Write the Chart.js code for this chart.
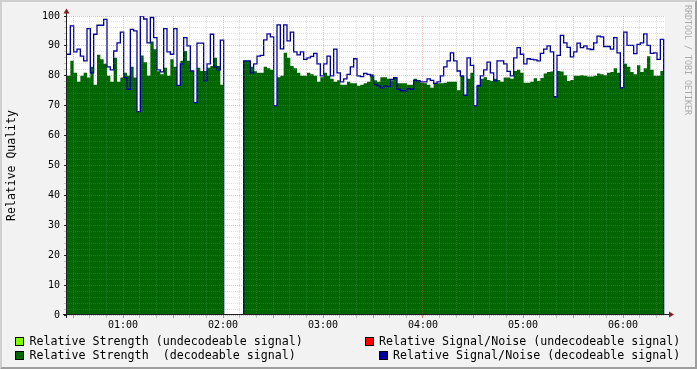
<!DOCTYPE html>
<html>
<head>
<meta charset="utf-8">
<script src="https://cdn.jsdelivr.net/npm/chart.js@4.4.1/dist/chart.umd.min.js"></script>
<style>
html,body{margin:0;padding:0;background:#F2F2F2;}
#wrap{position:relative;width:697px;height:369px;overflow:hidden;}
#wrap canvas{position:absolute;left:0;top:0;}
.lg{position:absolute;font-family:"DejaVu Sans Mono",monospace;font-size:11.65px;line-height:14px;color:#000;white-space:pre;}
.bx{position:absolute;width:9px;height:9px;box-sizing:border-box;border:1px solid #000;}
#wm{position:absolute;left:683px;top:5px;font-family:"DejaVu Sans Mono",monospace;font-size:8.3px;line-height:9px;color:#aaaaaa;writing-mode:vertical-rl;white-space:pre;}
</style>
</head>
<body>
<div id="wrap">
  <canvas id="c" width="697" height="369"></canvas>
  <div class="bx" style="left:15px;top:337px;background:#7FFF00"></div>
  <div class="lg" style="left:29.5px;top:334px">Relative Strength (undecodeable signal)</div>
  <div class="bx" style="left:15px;top:351px;background:#006600"></div>
  <div class="lg" style="left:29.5px;top:348px">Relative Strength  (decodeable signal)</div>
  <div class="bx" style="left:365px;top:337px;background:#FF0000"></div>
  <div class="lg" style="left:379px;top:334px">Relative Signal/Noise (undecodeable signal)</div>
  <div class="bx" style="left:379px;top:351px;background:#000099"></div>
  <div class="lg" style="left:393px;top:348px">Relative Signal/Noise (decodeable signal)</div>
  <div id="wm">RRDTOOL / TOBI OETIKER</div>
</div>
<script>
// ---- time axis (minutes after midnight) ----
const startMinute = 26.4;   // first sample
const stepMinutes = 2;      // sample interval
const xMin = 26.4, xMax = 385.2;
const hourTicks  = [60, 120, 180, 240, 300, 360];
const hourLabels = ['01:00', '02:00', '03:00', '04:00', '05:00', '06:00'];
const yLabels = [0, 10, 20, 30, 40, 50, 60, 70, 80, 90, 100];

// ---- series ----
const strengthUndecodeable = [];   // no samples in this period
const snrUndecodeable = [];        // no samples in this period

const strengthDecodeable = [
  80, 85, 81, 78, 80, 81, 79.4, 83, 77, 87,
  85.5, 84, 80, 78, 86, 78, 79.4, 81, 80, 83,
  79.4, 68, 86.8, 84.5, 80, 91.5, 88.9, 81.5, 80.5, 82.7,
  80, 85.5, 83, 76.6, 85, 88.3, 85, 81.6, 71, 82.7,
  81.6, 81.6, 82.7, 83.3, 86, 83.3, 77, 0, null, null,
  null, null, 0, 85, 85, 83, 81.5, 81, 81, 83,
  82.5, 82, 70, 79.5, 80, 87.7, 86, 83.3, 82.5, 81,
  80, 80, 81, 80.5, 80, 78, 79.5, 81, 80, 79,
  78, 78.5, 77, 77, 78, 77.5, 77.5, 76.7, 77, 77.5,
  78, 80.5, 78.5, 78, 79.5, 79.5, 79, 78.5, 79.5, 77.5,
  77.5, 77.5, 77, 77, 79, 78.5, 77.7, 77.5, 77, 76,
  77.7, 77.5, 77.5, 77.7, 78, 78, 78, 75.2, 80, 73.5,
  79, 81, 70, 77, 79, 79.5, 78.6, 78.3, 79, 78.6,
  78, 79.4, 79.4, 79, 81.6, 82, 81, 77.7, 77.7, 78,
  79.2, 78.3, 79.3, 80.8, 81.3, 81.4, 73, 81.6, 81.4, 80.2,
  78.3, 78.6, 80, 80, 80.2, 80, 79.8, 79.8, 80, 80.8,
  80.5, 80.2, 81, 81.3, 82.5, 81, 76, 84, 83, 81.3,
  80.5, 83.5, 81.3, 82.5, 86.5, 82, 80, 80, 81.6, 80
];

const snrDecodeable = [
  87.2, 96.7, 88, 88.9, 86.6, 85, 95.8, 81, 93.9, 96.9,
  96.9, 98.9, 83, 82, 88.3, 91, 94.6, 79.4, 75.5, 95.5,
  95, 68, 100, 99, 91, 99.5, 92.8, 82, 81.3, 95.8,
  88, 87.2, 95.8, 76.8, 84, 92.8, 90, 81.6, 71, 90.9,
  90.9, 78.3, 84, 93.9, 83, 82, 91.9, 0, null, null,
  null, null, 0, 85, 85, 81, 84, 86.6, 86.8, 92,
  94, 93, 70, 97, 89, 97, 91.7, 94.6, 88, 87,
  88, 85.5, 86, 86.5, 87.5, 84, 80, 84, 86.6, 80,
  88.9, 81, 78, 79, 80.5, 83, 85.7, 80, 79.7, 80.8,
  80.5, 80, 77.1, 76.6, 76, 76.6, 76.4, 78.8, 79.4, 75.5,
  75, 75, 75.7, 75.5, 78.5, 78.3, 78, 78, 79, 78.5,
  77.5, 78, 80, 83, 85, 87.7, 85, 81.6, 80, 73.5,
  86, 83.5, 70, 76.6, 80, 82, 84.6, 81, 78.3, 85,
  85, 84, 81.5, 80, 86, 89.4, 87.2, 84, 85.7, 85.5,
  85.3, 85, 87.5, 88.9, 90, 88, 73, 86.8, 93.5, 91,
  89.5, 86.3, 88, 90.9, 89.4, 90, 89, 88.8, 91, 93.3,
  93, 89.8, 89.8, 88.9, 92.8, 87.7, 76, 94.6, 90.2, 90.2,
  87.4, 90.5, 91, 94, 90.2, 87.5, 87.7, 85.5, 92.2, 0
];

const toPoints = arr => arr.map((v, i) => ({ x: startMinute + i * stepMinutes, y: v }));

// grid positions
const xGrid = [];
for (let m = 30; m <= 380; m += 10) xGrid.push(m);
const yGrid = [];
for (let v = 0; v <= 100; v += 2) yGrid.push(v);

const MINOR = 'rgba(143,143,143,0.28)';
const MAJOR = 'rgba(222,79,79,0.40)';
const FONT = '"DejaVu Sans Mono", monospace';

const framePlugin = {
  id: 'frame',
  beforeDraw(chart) {
    const ctx = chart.ctx, a = chart.chartArea, W = chart.width, H = chart.height;
    ctx.save();
    ctx.fillStyle = '#F2F2F2';
    ctx.fillRect(0, 0, W, H);
    ctx.fillStyle = '#FFFFFF';
    ctx.fillRect(a.left, a.top, a.right - a.left, a.bottom - a.top);
    ctx.restore();
  },
  afterDraw(chart) {
    const ctx = chart.ctx, a = chart.chartArea, W = chart.width, H = chart.height;
    ctx.save();
    // axes
    ctx.strokeStyle = 'rgb(31,31,31)';
    ctx.lineWidth = 1;
    const yAx = a.bottom - 0.5;
    const xAx = a.left - 0.5;
    ctx.beginPath();
    ctx.moveTo(a.left - 4, yAx); ctx.lineTo(a.right + 5, yAx);
    ctx.moveTo(xAx, a.bottom + 3); ctx.lineTo(xAx, a.top - 4);
    ctx.stroke();
    // arrows
    ctx.fillStyle = 'rgb(128,31,31)';
    ctx.beginPath();
    ctx.moveTo(xAx - 3, a.top - 2.5); ctx.lineTo(xAx + 3, a.top - 2.5); ctx.lineTo(xAx, a.top - 7.5); ctx.closePath();
    ctx.fill();
    ctx.beginPath();
    ctx.moveTo(a.right + 4, yAx - 3); ctx.lineTo(a.right + 4, yAx + 3); ctx.lineTo(a.right + 9, yAx); ctx.closePath();
    ctx.fill();
    // shade frame
    ctx.fillStyle = '#CFCFCF';
    ctx.beginPath();
    ctx.moveTo(0, 0); ctx.lineTo(W, 0); ctx.lineTo(W - 2, 2); ctx.lineTo(2, 2); ctx.lineTo(2, H - 2); ctx.lineTo(0, H); ctx.closePath();
    ctx.fill();
    ctx.fillStyle = '#9E9E9E';
    ctx.beginPath();
    ctx.moveTo(W, H); ctx.lineTo(0, H); ctx.lineTo(2, H - 2); ctx.lineTo(W - 2, H - 2); ctx.lineTo(W - 2, 2); ctx.lineTo(W, 0); ctx.closePath();
    ctx.fill();
    ctx.restore();
  }
};

new Chart(document.getElementById('c'), {
  type: 'line',
  data: {
    datasets: [
      { label: 'Relative Signal/Noise (decodeable signal)', data: toPoints(snrDecodeable),
        borderColor: '#000099', borderWidth: 1.3, fill: false, stepped: true, pointRadius: 0, order: 0 },
      { label: 'Relative Signal/Noise (undecodeable signal)', data: toPoints(snrUndecodeable),
        borderColor: '#FF0000', borderWidth: 1.3, fill: false, stepped: true, pointRadius: 0, order: 1 },
      { label: 'Relative Strength  (decodeable signal)', data: toPoints(strengthDecodeable),
        backgroundColor: '#006600', borderColor: 'rgba(0,0,0,0)', borderWidth: 0, fill: 'origin', stepped: true, pointRadius: 0, order: 2 },
      { label: 'Relative Strength (undecodeable signal)', data: toPoints(strengthUndecodeable),
        backgroundColor: '#7FFF00', borderColor: 'rgba(0,0,0,0)', borderWidth: 0, fill: 'origin', stepped: true, pointRadius: 0, order: 3 }
    ]
  },
  options: {
    responsive: false,
    animation: false,
    devicePixelRatio: 1,
    spanGaps: false,
    layout: { padding: { top: 16, right: 32, left: 0, bottom: 0 } },
    plugins: { legend: { display: false }, tooltip: { enabled: false } },
    scales: {
      x: {
        type: 'linear', min: xMin, max: xMax,
        afterBuildTicks: s => { s.ticks = xGrid.map(v => ({ value: v })); },
        afterFit: s => { s.height = 54; },
        ticks: {
          autoSkip: false, maxRotation: 0, minRotation: 0, padding: 1, color: '#000',
          font: { family: FONT, size: 10 },
          callback: v => { const k = hourTicks.indexOf(v); return k >= 0 ? hourLabels[k] : ''; }
        },
        grid: {
          z: 1, lineWidth: 1, tickLength: 3,
          color: c => (c.tick && c.tick.value % 30 === 0) ? MAJOR : MINOR,
          tickColor: c => (c.tick && c.tick.value % 30 === 0) ? 'rgba(222,79,79,0.7)' : 'rgba(143,143,143,0.5)'
        },
        border: { display: false, dash: [1, 1] }
      },
      y: {
        min: 0, max: 100,
        afterBuildTicks: s => { s.ticks = yGrid.map(v => ({ value: v })); },
        afterFit: s => { s.width = 67; },
        ticks: {
          autoSkip: false, padding: 4, color: '#000',
          font: { family: FONT, size: 10 },
          callback: v => yLabels.includes(v) ? String(v) : ''
        },
        grid: {
          z: 1, lineWidth: 1, tickLength: 3,
          color: c => (c.tick && c.tick.value % 10 === 0) ? MAJOR : MINOR,
          tickColor: c => (c.tick && c.tick.value % 10 === 0) ? 'rgb(31,31,31)' : 'rgba(143,143,143,0.5)'
        },
        border: { display: false, dash: [1, 1] },
        title: {
          display: true, text: 'Relative Quality', color: '#000',
          font: { family: FONT, size: 11.5 }, padding: { top: 4.7, bottom: 0 }
        }
      }
    }
  },
  plugins: [framePlugin]
});
</script>
</body>
</html>
